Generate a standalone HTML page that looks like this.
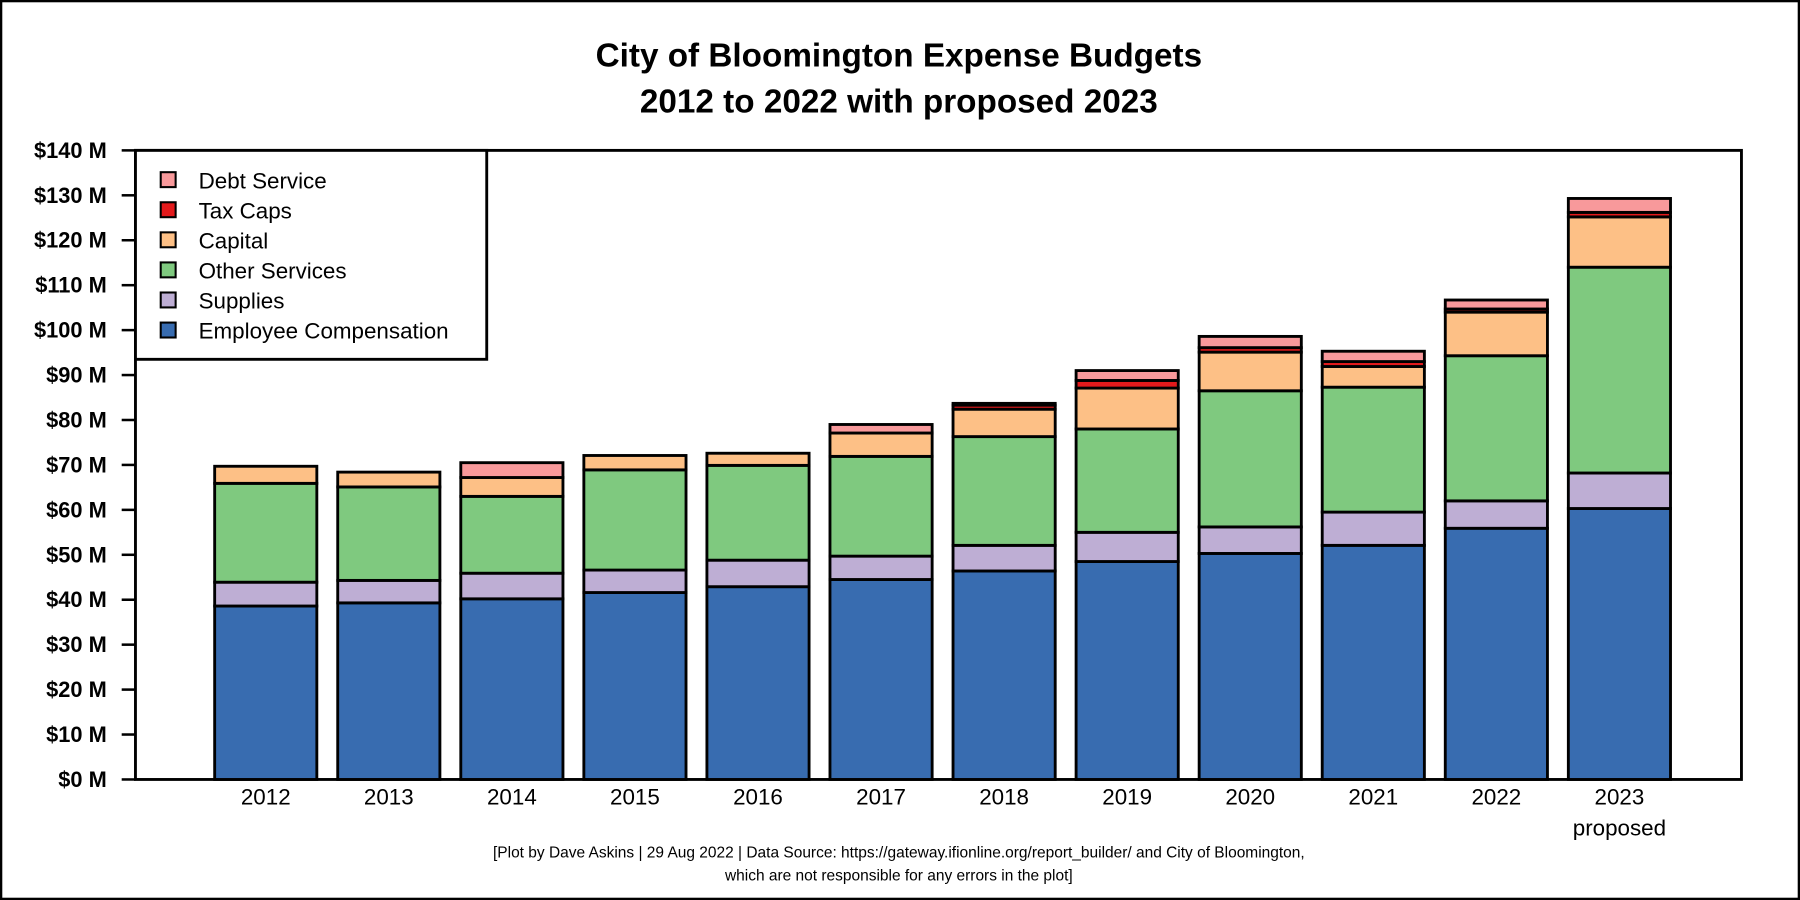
<!DOCTYPE html>
<html><head><meta charset="utf-8"><style>
html,body{margin:0;padding:0;background:#fff}
svg{display:block}
text{font-family:"Liberation Sans",Arial,sans-serif}
</style></head><body>
<svg id="chart" width="1800" height="900" viewBox="0 0 1568 784" xmlns="http://www.w3.org/2000/svg">
<rect x="1" y="1" width="1566" height="782" fill="#fff" stroke="#000" stroke-width="2"/>
<text x="783" y="58" text-anchor="middle" font-size="29" font-weight="bold">City of Bloomington Expense Budgets</text>
<text x="783" y="98" text-anchor="middle" font-size="29" font-weight="bold">2012 to 2022 with proposed 2023</text>
<rect x="118" y="131" width="1399" height="548" fill="none" stroke="#000" stroke-width="2.5"/>
<g id="bars"></g>
<g id="yaxis"></g>
<g id="xaxis"></g>
<g id="legend">
<rect x="118" y="131" width="306" height="182" fill="#fff" stroke="#000" stroke-width="2.5"/>
</g>
<text x="783" y="747" text-anchor="middle" font-size="13.5">[Plot by Dave Askins | 29 Aug 2022 | Data Source: https://gateway.ifionline.org/report_builder/ and City of Bloomington,</text>
<text x="783" y="767" text-anchor="middle" font-size="13.5">which are not responsible for any errors in the plot]</text>
</svg>
<script>
const categories = ["2012","2013","2014","2015","2016","2017","2018","2019","2020","2021","2022","2023"];
const employeeComp = [38.6,39.3,40.2,41.6,42.9,44.5,46.4,48.5,50.3,52.1,55.9,60.3];
const supplies = [5.3,5.0,5.7,5.0,5.9,5.2,5.7,6.5,5.9,7.4,6.1,7.9];
const otherServices = [22.0,20.8,17.1,22.3,21.1,22.2,24.2,23.0,30.3,27.8,32.3,45.8];
const capital = [3.8,3.3,4.2,3.2,2.7,5.2,6.1,9.1,8.6,4.6,9.7,11.2];
const taxCaps = [0,0,0,0,0,0,0.9,1.7,1.0,1.1,0.7,1.0];
const debtService = [0,0,3.3,0,0,1.9,0.4,2.2,2.5,2.3,2.0,3.1];
const yTicks = [0,10,20,30,40,50,60,70,80,90,100,110,120,130,140];
const yTickLabels = ["$0 M","$10 M","$20 M","$30 M","$40 M","$50 M","$60 M","$70 M","$80 M","$90 M","$100 M","$110 M","$120 M","$130 M","$140 M"];
const seriesNames = ["Employee Compensation","Supplies","Other Services","Capital","Tax Caps","Debt Service"];
const seriesColors = ["#386cb0","#beaed4","#7fc97f","#fdc086","#e31a1c","#f8999b"];
const series = [employeeComp,supplies,otherServices,capital,taxCaps,debtService];

const NS="http://www.w3.org/2000/svg";
const y0=679, yTop=131, yMax=140;
function yScale(v){return y0-(v/yMax)*(y0-yTop);}
const barW=89, firstX=187, step=107.2;
function xScale(i){return firstX+i*step;}
function mk(tag,attrs,parent){const e=document.createElementNS(NS,tag);for(const k in attrs)e.setAttribute(k,attrs[k]);parent.appendChild(e);return e;}

const gb=document.getElementById('bars');
categories.forEach((c,i)=>{
  let cum=0;
  series.forEach((s,j)=>{
    const v=s[i];
    if(v<=0) return;
    const yb=yScale(cum), yt=yScale(cum+v);
    const r=mk('rect',{x:xScale(i),y:yt,width:barW,height:yb-yt,fill:seriesColors[j],stroke:'#000','stroke-width':2.5},gb);
    
    
    cum+=v;
  });
});

const gy=document.getElementById('yaxis');
yTicks.forEach((t,i)=>{
  const y=yScale(t);
  const l=mk('line',{x1:106,x2:118,y1:y,y2:y,stroke:'#000','stroke-width':2.2},gy);
  
  
  const tx=mk('text',{x:93,y:y+6.5,'text-anchor':'end','font-size':19,'font-weight':'bold'},gy);
  tx.textContent=yTickLabels[i];
  
  
});

const gx=document.getElementById('xaxis');
categories.forEach((c,i)=>{
  const tx=mk('text',{x:xScale(i)+barW/2,y:701,'text-anchor':'middle','font-size':19.5},gx);
  tx.textContent=c;
  
  
});
const pr=mk('text',{x:xScale(11)+barW/2,y:728,'text-anchor':'middle','font-size':19.5},gx);
pr.textContent="proposed";



const gl=document.getElementById('legend');
for(let k=0;k<6;k++){
  const j=5-k;
  const y=157+k*26.2;
  const sq=mk('rect',{x:140,y:y-7,width:13,height:13,fill:seriesColors[j],stroke:'#000','stroke-width':1.8},gl);
  
  
  const tx=mk('text',{x:173,y:y+7,'font-size':19.5},gl);
  tx.textContent=seriesNames[j];
  
  
}
</script>
</body></html>
